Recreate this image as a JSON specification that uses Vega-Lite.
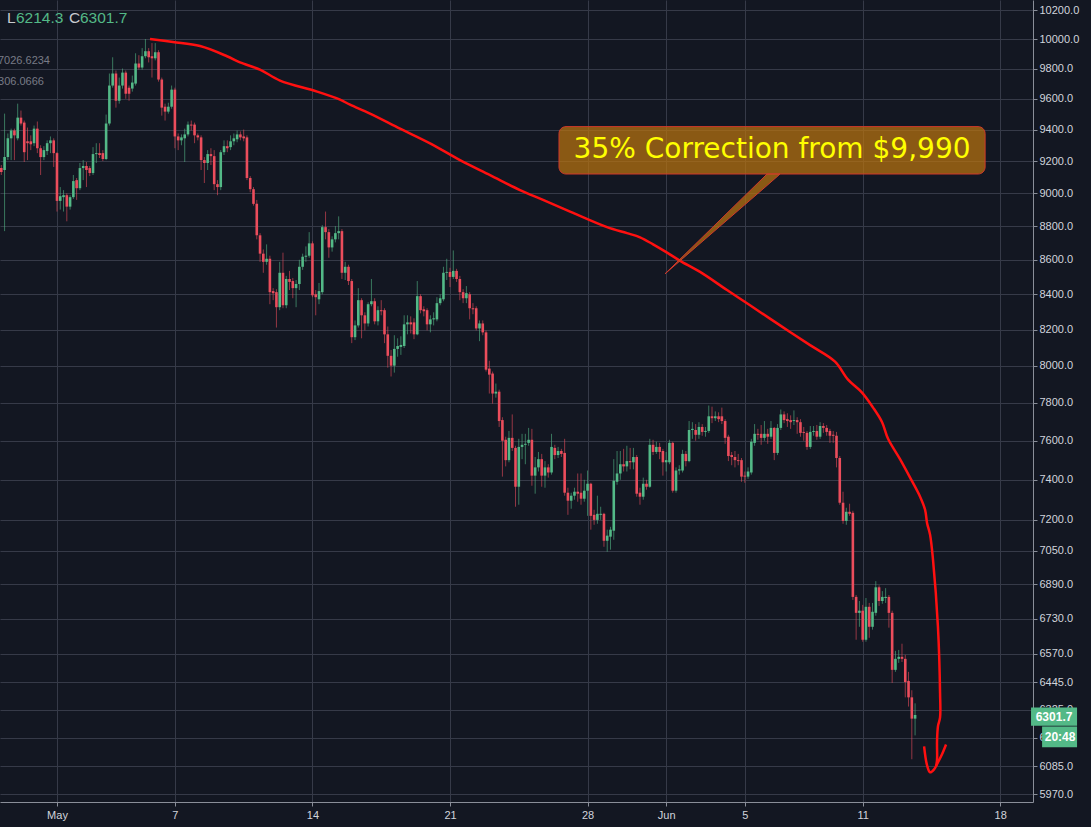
{
  "$schema": "https://vega.github.io/schema/vega-lite/v6.json",
  "width": 1033,
  "height": 802,
  "autosize": {"type": "none"},
  "padding": {"left": 0, "top": 0, "right": 58, "bottom": 25},
  "background": "#131722",
  "config": {"view": {"stroke": null}},
  "datasets": {
    "candles": [
      {"t":"2018-04-28T04:00","o":9156,"h":9175,"l":9113,"c":9131},
      {"t":"2018-04-28T08:00","o":9144,"h":9503,"l":8770,"c":9225},
      {"t":"2018-04-28T12:00","o":9225,"h":9375,"l":9206,"c":9344},
      {"t":"2018-04-28T16:00","o":9344,"h":9406,"l":9206,"c":9394},
      {"t":"2018-04-28T20:00","o":9394,"h":9406,"l":9206,"c":9363},
      {"t":"2018-04-29T00:00","o":9344,"h":9568,"l":9331,"c":9477},
      {"t":"2018-04-29T04:00","o":9477,"h":9523,"l":9426,"c":9439},
      {"t":"2018-04-29T08:00","o":9445,"h":9458,"l":9194,"c":9256},
      {"t":"2018-04-29T12:00","o":9325,"h":9413,"l":9206,"c":9313},
      {"t":"2018-04-29T16:00","o":9325,"h":9363,"l":9269,"c":9306},
      {"t":"2018-04-29T20:00","o":9313,"h":9426,"l":9294,"c":9406},
      {"t":"2018-04-30T00:00","o":9406,"h":9452,"l":9250,"c":9281},
      {"t":"2018-04-30T04:00","o":9281,"h":9300,"l":9113,"c":9225},
      {"t":"2018-04-30T08:00","o":9225,"h":9294,"l":9206,"c":9269},
      {"t":"2018-04-30T12:00","o":9263,"h":9331,"l":9238,"c":9313},
      {"t":"2018-04-30T16:00","o":9313,"h":9356,"l":9250,"c":9331},
      {"t":"2018-04-30T20:00","o":9331,"h":9344,"l":9163,"c":9250},
      {"t":"2018-05-01T00:00","o":9250,"h":9256,"l":8888,"c":8953},
      {"t":"2018-05-01T04:00","o":8953,"h":9038,"l":8900,"c":8982},
      {"t":"2018-05-01T08:00","o":8976,"h":9019,"l":8888,"c":8988},
      {"t":"2018-05-01T12:00","o":8988,"h":9000,"l":8829,"c":8918},
      {"t":"2018-05-01T16:00","o":8918,"h":8988,"l":8900,"c":8976},
      {"t":"2018-05-01T20:00","o":8976,"h":9113,"l":8965,"c":9075},
      {"t":"2018-05-02T00:00","o":9081,"h":9094,"l":8959,"c":9031},
      {"t":"2018-05-02T04:00","o":9031,"h":9188,"l":9019,"c":9156},
      {"t":"2018-05-02T08:00","o":9156,"h":9206,"l":9081,"c":9169},
      {"t":"2018-05-02T12:00","o":9169,"h":9194,"l":9038,"c":9144},
      {"t":"2018-05-02T16:00","o":9156,"h":9169,"l":9106,"c":9125},
      {"t":"2018-05-02T20:00","o":9125,"h":9288,"l":9113,"c":9244},
      {"t":"2018-05-03T00:00","o":9244,"h":9313,"l":9188,"c":9250},
      {"t":"2018-05-03T04:00","o":9250,"h":9313,"l":9219,"c":9238},
      {"t":"2018-05-03T08:00","o":9250,"h":9269,"l":9200,"c":9213},
      {"t":"2018-05-03T12:00","o":9213,"h":9497,"l":9206,"c":9439},
      {"t":"2018-05-03T16:00","o":9439,"h":9767,"l":9426,"c":9687},
      {"t":"2018-05-03T20:00","o":9687,"h":9876,"l":9673,"c":9767},
      {"t":"2018-05-04T00:00","o":9767,"h":9787,"l":9542,"c":9587},
      {"t":"2018-05-04T04:00","o":9587,"h":9740,"l":9568,"c":9687},
      {"t":"2018-05-04T08:00","o":9687,"h":9800,"l":9667,"c":9773},
      {"t":"2018-05-04T12:00","o":9773,"h":9787,"l":9600,"c":9633},
      {"t":"2018-05-04T16:00","o":9673,"h":9687,"l":9587,"c":9633},
      {"t":"2018-05-04T20:00","o":9667,"h":9753,"l":9647,"c":9707},
      {"t":"2018-05-05T00:00","o":9700,"h":9903,"l":9687,"c":9834},
      {"t":"2018-05-05T04:00","o":9834,"h":9890,"l":9793,"c":9807},
      {"t":"2018-05-05T08:00","o":9807,"h":9938,"l":9793,"c":9883},
      {"t":"2018-05-05T12:00","o":9883,"h":10000,"l":9869,"c":9917},
      {"t":"2018-05-05T16:00","o":9917,"h":9938,"l":9841,"c":9876},
      {"t":"2018-05-05T20:00","o":9883,"h":9972,"l":9740,"c":9869},
      {"t":"2018-05-06T00:00","o":9869,"h":9972,"l":9855,"c":9910},
      {"t":"2018-05-06T04:00","o":9910,"h":9924,"l":9713,"c":9727},
      {"t":"2018-05-06T08:00","o":9727,"h":9740,"l":9490,"c":9542},
      {"t":"2018-05-06T12:00","o":9548,"h":9568,"l":9458,"c":9516},
      {"t":"2018-05-06T16:00","o":9516,"h":9574,"l":9503,"c":9548},
      {"t":"2018-05-06T20:00","o":9548,"h":9687,"l":9535,"c":9660},
      {"t":"2018-05-07T00:00","o":9660,"h":9673,"l":9281,"c":9356},
      {"t":"2018-05-07T04:00","o":9356,"h":9375,"l":9269,"c":9331},
      {"t":"2018-05-07T08:00","o":9331,"h":9369,"l":9300,"c":9350},
      {"t":"2018-05-07T12:00","o":9344,"h":9406,"l":9194,"c":9369},
      {"t":"2018-05-07T16:00","o":9369,"h":9452,"l":9356,"c":9432},
      {"t":"2018-05-07T20:00","o":9432,"h":9458,"l":9394,"c":9426},
      {"t":"2018-05-08T00:00","o":9432,"h":9445,"l":9313,"c":9363},
      {"t":"2018-05-08T04:00","o":9363,"h":9375,"l":9331,"c":9350},
      {"t":"2018-05-08T08:00","o":9350,"h":9363,"l":9144,"c":9206},
      {"t":"2018-05-08T12:00","o":9206,"h":9225,"l":9063,"c":9188},
      {"t":"2018-05-08T16:00","o":9188,"h":9269,"l":9144,"c":9244},
      {"t":"2018-05-08T20:00","o":9244,"h":9281,"l":9175,"c":9231},
      {"t":"2018-05-09T00:00","o":9231,"h":9269,"l":9019,"c":9056},
      {"t":"2018-05-09T04:00","o":9056,"h":9081,"l":8988,"c":9038},
      {"t":"2018-05-09T08:00","o":9038,"h":9269,"l":9019,"c":9256},
      {"t":"2018-05-09T12:00","o":9256,"h":9331,"l":9238,"c":9294},
      {"t":"2018-05-09T16:00","o":9294,"h":9331,"l":9256,"c":9281},
      {"t":"2018-05-09T20:00","o":9288,"h":9363,"l":9269,"c":9325},
      {"t":"2018-05-10T00:00","o":9325,"h":9375,"l":9300,"c":9344},
      {"t":"2018-05-10T04:00","o":9338,"h":9394,"l":9319,"c":9369},
      {"t":"2018-05-10T08:00","o":9369,"h":9388,"l":9331,"c":9350},
      {"t":"2018-05-10T12:00","o":9356,"h":9400,"l":9325,"c":9344},
      {"t":"2018-05-10T16:00","o":9350,"h":9363,"l":9081,"c":9094},
      {"t":"2018-05-10T20:00","o":9094,"h":9106,"l":9006,"c":9025},
      {"t":"2018-05-11T00:00","o":9025,"h":9038,"l":8924,"c":8935},
      {"t":"2018-05-11T04:00","o":8935,"h":8959,"l":8721,"c":8745},
      {"t":"2018-05-11T08:00","o":8745,"h":8758,"l":8588,"c":8636},
      {"t":"2018-05-11T12:00","o":8636,"h":8661,"l":8524,"c":8588},
      {"t":"2018-05-11T16:00","o":8588,"h":8691,"l":8571,"c":8606},
      {"t":"2018-05-11T20:00","o":8606,"h":8624,"l":8343,"c":8412},
      {"t":"2018-05-12T00:00","o":8418,"h":8435,"l":8366,"c":8406},
      {"t":"2018-05-12T04:00","o":8412,"h":8429,"l":8211,"c":8326},
      {"t":"2018-05-12T08:00","o":8326,"h":8588,"l":8309,"c":8524},
      {"t":"2018-05-12T12:00","o":8524,"h":8642,"l":8320,"c":8337},
      {"t":"2018-05-12T16:00","o":8337,"h":8506,"l":8320,"c":8488},
      {"t":"2018-05-12T20:00","o":8488,"h":8535,"l":8424,"c":8471},
      {"t":"2018-05-13T00:00","o":8476,"h":8494,"l":8377,"c":8435},
      {"t":"2018-05-13T04:00","o":8435,"h":8482,"l":8326,"c":8459},
      {"t":"2018-05-13T08:00","o":8459,"h":8600,"l":8424,"c":8559},
      {"t":"2018-05-13T12:00","o":8559,"h":8636,"l":8541,"c":8618},
      {"t":"2018-05-13T16:00","o":8618,"h":8679,"l":8588,"c":8624},
      {"t":"2018-05-13T20:00","o":8624,"h":8764,"l":8612,"c":8697},
      {"t":"2018-05-14T00:00","o":8697,"h":8709,"l":8383,"c":8394},
      {"t":"2018-05-14T04:00","o":8400,"h":8424,"l":8280,"c":8383},
      {"t":"2018-05-14T08:00","o":8371,"h":8465,"l":8343,"c":8418},
      {"t":"2018-05-14T12:00","o":8412,"h":8806,"l":8400,"c":8794},
      {"t":"2018-05-14T16:00","o":8794,"h":8888,"l":8721,"c":8764},
      {"t":"2018-05-14T20:00","o":8764,"h":8782,"l":8612,"c":8673},
      {"t":"2018-05-15T00:00","o":8673,"h":8739,"l":8648,"c":8721},
      {"t":"2018-05-15T04:00","o":8721,"h":8800,"l":8703,"c":8758},
      {"t":"2018-05-15T08:00","o":8758,"h":8859,"l":8721,"c":8770},
      {"t":"2018-05-15T12:00","o":8770,"h":8782,"l":8488,"c":8524},
      {"t":"2018-05-15T16:00","o":8524,"h":8588,"l":8482,"c":8559},
      {"t":"2018-05-15T20:00","o":8559,"h":8571,"l":8453,"c":8476},
      {"t":"2018-05-16T00:00","o":8476,"h":8488,"l":8124,"c":8157},
      {"t":"2018-05-16T04:00","o":8157,"h":8251,"l":8141,"c":8223},
      {"t":"2018-05-16T08:00","o":8223,"h":8435,"l":8211,"c":8366},
      {"t":"2018-05-16T12:00","o":8366,"h":8377,"l":8151,"c":8280},
      {"t":"2018-05-16T16:00","o":8280,"h":8297,"l":8195,"c":8234},
      {"t":"2018-05-16T20:00","o":8234,"h":8354,"l":8217,"c":8343},
      {"t":"2018-05-17T00:00","o":8343,"h":8488,"l":8331,"c":8360},
      {"t":"2018-05-17T04:00","o":8360,"h":8377,"l":8229,"c":8246},
      {"t":"2018-05-17T08:00","o":8246,"h":8331,"l":8223,"c":8309},
      {"t":"2018-05-17T12:00","o":8309,"h":8366,"l":8280,"c":8303},
      {"t":"2018-05-17T16:00","o":8309,"h":8320,"l":8124,"c":8173},
      {"t":"2018-05-17T20:00","o":8173,"h":8217,"l":7989,"c":8054},
      {"t":"2018-05-18T00:00","o":8054,"h":8086,"l":7941,"c":8000},
      {"t":"2018-05-18T04:00","o":8000,"h":8168,"l":7962,"c":8092},
      {"t":"2018-05-18T08:00","o":8092,"h":8151,"l":8049,"c":8108},
      {"t":"2018-05-18T12:00","o":8103,"h":8162,"l":8059,"c":8114},
      {"t":"2018-05-18T16:00","o":8108,"h":8280,"l":8097,"c":8229},
      {"t":"2018-05-18T20:00","o":8229,"h":8280,"l":8173,"c":8240},
      {"t":"2018-05-19T00:00","o":8240,"h":8274,"l":8178,"c":8229},
      {"t":"2018-05-19T04:00","o":8240,"h":8263,"l":8146,"c":8173},
      {"t":"2018-05-19T08:00","o":8173,"h":8476,"l":8168,"c":8389},
      {"t":"2018-05-19T12:00","o":8389,"h":8400,"l":8291,"c":8309},
      {"t":"2018-05-19T16:00","o":8314,"h":8331,"l":8274,"c":8303},
      {"t":"2018-05-19T20:00","o":8309,"h":8320,"l":8195,"c":8229},
      {"t":"2018-05-20T00:00","o":8229,"h":8280,"l":8184,"c":8257},
      {"t":"2018-05-20T04:00","o":8257,"h":8297,"l":8223,"c":8263},
      {"t":"2018-05-20T08:00","o":8257,"h":8383,"l":8246,"c":8349},
      {"t":"2018-05-20T12:00","o":8349,"h":8400,"l":8337,"c":8377},
      {"t":"2018-05-20T16:00","o":8371,"h":8559,"l":8360,"c":8524},
      {"t":"2018-05-20T20:00","o":8524,"h":8606,"l":8482,"c":8529},
      {"t":"2018-05-21T00:00","o":8529,"h":8553,"l":8441,"c":8500},
      {"t":"2018-05-21T04:00","o":8500,"h":8655,"l":8488,"c":8535},
      {"t":"2018-05-21T08:00","o":8535,"h":8547,"l":8471,"c":8488},
      {"t":"2018-05-21T12:00","o":8488,"h":8506,"l":8366,"c":8412},
      {"t":"2018-05-21T16:00","o":8412,"h":8429,"l":8349,"c":8377},
      {"t":"2018-05-21T20:00","o":8377,"h":8447,"l":8349,"c":8406},
      {"t":"2018-05-22T00:00","o":8400,"h":8412,"l":8257,"c":8320},
      {"t":"2018-05-22T04:00","o":8320,"h":8349,"l":8286,"c":8314},
      {"t":"2018-05-22T08:00","o":8320,"h":8331,"l":8195,"c":8206},
      {"t":"2018-05-22T12:00","o":8206,"h":8251,"l":8135,"c":8234},
      {"t":"2018-05-22T16:00","o":8234,"h":8251,"l":8168,"c":8184},
      {"t":"2018-05-22T20:00","o":8184,"h":8195,"l":7968,"c":7978},
      {"t":"2018-05-23T00:00","o":7984,"h":8027,"l":7849,"c":7951},
      {"t":"2018-05-23T04:00","o":7957,"h":7968,"l":7795,"c":7849},
      {"t":"2018-05-23T08:00","o":7849,"h":7903,"l":7827,"c":7859},
      {"t":"2018-05-23T12:00","o":7859,"h":7870,"l":7672,"c":7703},
      {"t":"2018-05-23T16:00","o":7708,"h":7723,"l":7416,"c":7600},
      {"t":"2018-05-23T20:00","o":7605,"h":7621,"l":7468,"c":7500},
      {"t":"2018-05-24T00:00","o":7500,"h":7651,"l":7489,"c":7615},
      {"t":"2018-05-24T04:00","o":7615,"h":7738,"l":7547,"c":7563},
      {"t":"2018-05-24T08:00","o":7563,"h":7574,"l":7265,"c":7365},
      {"t":"2018-05-24T12:00","o":7365,"h":7610,"l":7275,"c":7568},
      {"t":"2018-05-24T16:00","o":7568,"h":7636,"l":7505,"c":7579},
      {"t":"2018-05-24T20:00","o":7579,"h":7636,"l":7479,"c":7584},
      {"t":"2018-05-25T00:00","o":7589,"h":7667,"l":7574,"c":7605},
      {"t":"2018-05-25T04:00","o":7605,"h":7662,"l":7370,"c":7421},
      {"t":"2018-05-25T08:00","o":7421,"h":7516,"l":7330,"c":7463},
      {"t":"2018-05-25T12:00","o":7463,"h":7542,"l":7442,"c":7505},
      {"t":"2018-05-25T16:00","o":7505,"h":7532,"l":7365,"c":7421},
      {"t":"2018-05-25T20:00","o":7421,"h":7495,"l":7360,"c":7463},
      {"t":"2018-05-26T00:00","o":7463,"h":7479,"l":7411,"c":7437},
      {"t":"2018-05-26T04:00","o":7437,"h":7636,"l":7426,"c":7568},
      {"t":"2018-05-26T08:00","o":7563,"h":7579,"l":7505,"c":7526},
      {"t":"2018-05-26T12:00","o":7526,"h":7568,"l":7511,"c":7547},
      {"t":"2018-05-26T16:00","o":7547,"h":7558,"l":7516,"c":7532},
      {"t":"2018-05-26T20:00","o":7537,"h":7610,"l":7320,"c":7335},
      {"t":"2018-05-27T00:00","o":7335,"h":7360,"l":7225,"c":7295},
      {"t":"2018-05-27T04:00","o":7295,"h":7335,"l":7255,"c":7320},
      {"t":"2018-05-27T08:00","o":7320,"h":7360,"l":7300,"c":7340},
      {"t":"2018-05-27T12:00","o":7340,"h":7432,"l":7290,"c":7330},
      {"t":"2018-05-27T16:00","o":7335,"h":7432,"l":7275,"c":7305},
      {"t":"2018-05-27T20:00","o":7305,"h":7400,"l":7290,"c":7345},
      {"t":"2018-05-28T00:00","o":7345,"h":7447,"l":7220,"c":7380},
      {"t":"2018-05-28T04:00","o":7380,"h":7385,"l":7152,"c":7220},
      {"t":"2018-05-28T08:00","o":7225,"h":7250,"l":7176,"c":7200},
      {"t":"2018-05-28T12:00","o":7200,"h":7320,"l":7181,"c":7230},
      {"t":"2018-05-28T16:00","o":7225,"h":7265,"l":7200,"c":7230},
      {"t":"2018-05-28T20:00","o":7230,"h":7235,"l":7069,"c":7098},
      {"t":"2018-05-29T00:00","o":7098,"h":7152,"l":7045,"c":7123},
      {"t":"2018-05-29T04:00","o":7118,"h":7166,"l":7055,"c":7152},
      {"t":"2018-05-29T08:00","o":7147,"h":7505,"l":7103,"c":7395},
      {"t":"2018-05-29T12:00","o":7390,"h":7547,"l":7375,"c":7432},
      {"t":"2018-05-29T16:00","o":7432,"h":7547,"l":7400,"c":7479},
      {"t":"2018-05-29T20:00","o":7479,"h":7558,"l":7442,"c":7468},
      {"t":"2018-05-30T00:00","o":7468,"h":7574,"l":7442,"c":7495},
      {"t":"2018-05-30T04:00","o":7495,"h":7563,"l":7453,"c":7489},
      {"t":"2018-05-30T08:00","o":7489,"h":7563,"l":7453,"c":7516},
      {"t":"2018-05-30T12:00","o":7516,"h":7526,"l":7315,"c":7330},
      {"t":"2018-05-30T16:00","o":7335,"h":7360,"l":7275,"c":7315},
      {"t":"2018-05-30T20:00","o":7315,"h":7411,"l":7300,"c":7380},
      {"t":"2018-05-31T00:00","o":7380,"h":7400,"l":7350,"c":7365},
      {"t":"2018-05-31T04:00","o":7365,"h":7610,"l":7360,"c":7579},
      {"t":"2018-05-31T08:00","o":7579,"h":7605,"l":7526,"c":7542},
      {"t":"2018-05-31T12:00","o":7542,"h":7595,"l":7532,"c":7568},
      {"t":"2018-05-31T16:00","o":7568,"h":7589,"l":7505,"c":7542},
      {"t":"2018-05-31T20:00","o":7547,"h":7558,"l":7421,"c":7489},
      {"t":"2018-06-01T00:00","o":7489,"h":7542,"l":7442,"c":7500},
      {"t":"2018-06-01T04:00","o":7489,"h":7605,"l":7479,"c":7589},
      {"t":"2018-06-01T08:00","o":7589,"h":7595,"l":7335,"c":7345},
      {"t":"2018-06-01T12:00","o":7345,"h":7463,"l":7335,"c":7447},
      {"t":"2018-06-01T16:00","o":7447,"h":7474,"l":7426,"c":7453},
      {"t":"2018-06-01T20:00","o":7447,"h":7553,"l":7437,"c":7532},
      {"t":"2018-06-02T00:00","o":7532,"h":7547,"l":7468,"c":7495},
      {"t":"2018-06-02T04:00","o":7495,"h":7703,"l":7489,"c":7656},
      {"t":"2018-06-02T08:00","o":7656,"h":7697,"l":7610,"c":7662},
      {"t":"2018-06-02T12:00","o":7656,"h":7687,"l":7600,"c":7631},
      {"t":"2018-06-02T16:00","o":7631,"h":7697,"l":7610,"c":7672},
      {"t":"2018-06-02T20:00","o":7672,"h":7687,"l":7626,"c":7646},
      {"t":"2018-06-03T00:00","o":7646,"h":7672,"l":7621,"c":7651},
      {"t":"2018-06-03T04:00","o":7651,"h":7785,"l":7641,"c":7728},
      {"t":"2018-06-03T08:00","o":7728,"h":7779,"l":7692,"c":7718},
      {"t":"2018-06-03T12:00","o":7718,"h":7754,"l":7703,"c":7728},
      {"t":"2018-06-03T16:00","o":7728,"h":7749,"l":7697,"c":7713},
      {"t":"2018-06-03T20:00","o":7728,"h":7774,"l":7687,"c":7703},
      {"t":"2018-06-04T00:00","o":7703,"h":7713,"l":7584,"c":7615},
      {"t":"2018-06-04T04:00","o":7621,"h":7631,"l":7495,"c":7521},
      {"t":"2018-06-04T08:00","o":7526,"h":7542,"l":7474,"c":7516},
      {"t":"2018-06-04T12:00","o":7516,"h":7547,"l":7463,"c":7500},
      {"t":"2018-06-04T16:00","o":7500,"h":7532,"l":7474,"c":7495},
      {"t":"2018-06-04T20:00","o":7500,"h":7511,"l":7390,"c":7416},
      {"t":"2018-06-05T00:00","o":7421,"h":7442,"l":7385,"c":7416},
      {"t":"2018-06-05T04:00","o":7416,"h":7463,"l":7405,"c":7442},
      {"t":"2018-06-05T08:00","o":7437,"h":7610,"l":7426,"c":7595},
      {"t":"2018-06-05T12:00","o":7589,"h":7687,"l":7574,"c":7636},
      {"t":"2018-06-05T16:00","o":7636,"h":7662,"l":7605,"c":7631},
      {"t":"2018-06-05T20:00","o":7636,"h":7682,"l":7579,"c":7615},
      {"t":"2018-06-06T00:00","o":7615,"h":7703,"l":7600,"c":7636},
      {"t":"2018-06-06T04:00","o":7636,"h":7662,"l":7584,"c":7621},
      {"t":"2018-06-06T08:00","o":7621,"h":7703,"l":7610,"c":7667},
      {"t":"2018-06-06T12:00","o":7667,"h":7672,"l":7500,"c":7537},
      {"t":"2018-06-06T16:00","o":7537,"h":7687,"l":7526,"c":7667},
      {"t":"2018-06-06T20:00","o":7667,"h":7764,"l":7656,"c":7738},
      {"t":"2018-06-07T00:00","o":7738,"h":7754,"l":7692,"c":7708},
      {"t":"2018-06-07T04:00","o":7713,"h":7744,"l":7672,"c":7703},
      {"t":"2018-06-07T08:00","o":7708,"h":7733,"l":7662,"c":7697},
      {"t":"2018-06-07T12:00","o":7703,"h":7759,"l":7682,"c":7708},
      {"t":"2018-06-07T16:00","o":7708,"h":7723,"l":7636,"c":7697},
      {"t":"2018-06-07T20:00","o":7697,"h":7713,"l":7621,"c":7641},
      {"t":"2018-06-08T00:00","o":7646,"h":7672,"l":7600,"c":7641},
      {"t":"2018-06-08T04:00","o":7641,"h":7651,"l":7553,"c":7568},
      {"t":"2018-06-08T08:00","o":7568,"h":7677,"l":7558,"c":7646},
      {"t":"2018-06-08T12:00","o":7646,"h":7677,"l":7626,"c":7651},
      {"t":"2018-06-08T16:00","o":7651,"h":7682,"l":7605,"c":7621},
      {"t":"2018-06-08T20:00","o":7621,"h":7697,"l":7610,"c":7677},
      {"t":"2018-06-09T00:00","o":7677,"h":7692,"l":7641,"c":7667},
      {"t":"2018-06-09T04:00","o":7667,"h":7682,"l":7626,"c":7646},
      {"t":"2018-06-09T08:00","o":7651,"h":7662,"l":7589,"c":7626},
      {"t":"2018-06-09T12:00","o":7631,"h":7651,"l":7589,"c":7626},
      {"t":"2018-06-09T16:00","o":7626,"h":7646,"l":7463,"c":7511},
      {"t":"2018-06-09T20:00","o":7511,"h":7521,"l":7275,"c":7285},
      {"t":"2018-06-10T00:00","o":7285,"h":7340,"l":7181,"c":7195},
      {"t":"2018-06-10T04:00","o":7195,"h":7260,"l":7176,"c":7240},
      {"t":"2018-06-10T08:00","o":7240,"h":7280,"l":7220,"c":7230},
      {"t":"2018-06-10T12:00","o":7235,"h":7245,"l":6817,"c":6831},
      {"t":"2018-06-10T16:00","o":6831,"h":6840,"l":6634,"c":6757},
      {"t":"2018-06-10T20:00","o":6757,"h":6812,"l":6693,"c":6767},
      {"t":"2018-06-11T00:00","o":6767,"h":6794,"l":6625,"c":6634},
      {"t":"2018-06-11T04:00","o":6634,"h":6826,"l":6625,"c":6785},
      {"t":"2018-06-11T08:00","o":6785,"h":6803,"l":6643,"c":6693},
      {"t":"2018-06-11T12:00","o":6693,"h":6803,"l":6680,"c":6762},
      {"t":"2018-06-11T16:00","o":6757,"h":6905,"l":6744,"c":6876},
      {"t":"2018-06-11T20:00","o":6876,"h":6885,"l":6789,"c":6812},
      {"t":"2018-06-12T00:00","o":6812,"h":6858,"l":6799,"c":6831},
      {"t":"2018-06-12T04:00","o":6826,"h":6872,"l":6803,"c":6831},
      {"t":"2018-06-12T08:00","o":6831,"h":6840,"l":6689,"c":6757},
      {"t":"2018-06-12T12:00","o":6757,"h":6767,"l":6441,"c":6499},
      {"t":"2018-06-12T16:00","o":6499,"h":6584,"l":6490,"c":6548},
      {"t":"2018-06-12T20:00","o":6548,"h":6588,"l":6530,"c":6557},
      {"t":"2018-06-13T00:00","o":6557,"h":6616,"l":6534,"c":6548},
      {"t":"2018-06-13T04:00","o":6548,"h":6566,"l":6378,"c":6445},
      {"t":"2018-06-13T08:00","o":6450,"h":6490,"l":6338,"c":6378},
      {"t":"2018-06-13T12:00","o":6378,"h":6409,"l":6114,"c":6286},
      {"t":"2018-06-13T16:00","o":6286,"h":6352,"l":6214.3,"c":6301.7}
    ],
    "curve": [
      {"t":"2018-05-05T17:36","p":10000,"g":"a","i":1},
      {"t":"2018-05-06T21:42","p":9979,"g":"a","i":2},
      {"t":"2018-05-08T06:42","p":9952,"g":"a","i":3},
      {"t":"2018-05-09T15:36","p":9883,"g":"a","i":4},
      {"t":"2018-05-10T07:30","p":9841,"g":"a","i":5},
      {"t":"2018-05-11T07:54","p":9793,"g":"a","i":6},
      {"t":"2018-05-12T08:24","p":9720,"g":"a","i":7},
      {"t":"2018-05-14T05:36","p":9647,"g":"a","i":8},
      {"t":"2018-05-15T09:42","p":9594,"g":"a","i":9},
      {"t":"2018-05-15T21:54","p":9561,"g":"a","i":10},
      {"t":"2018-05-16T22:18","p":9503,"g":"a","i":11},
      {"t":"2018-05-18T11:00","p":9406,"g":"a","i":12},
      {"t":"2018-05-19T23:36","p":9312,"g":"a","i":13},
      {"t":"2018-05-21T12:12","p":9206,"g":"a","i":14},
      {"t":"2018-05-23T00:54","p":9112,"g":"a","i":15},
      {"t":"2018-05-24T13:30","p":9019,"g":"a","i":16},
      {"t":"2018-05-25T17:36","p":8959,"g":"a","i":17},
      {"t":"2018-05-27T02:36","p":8888,"g":"a","i":18},
      {"t":"2018-05-28T23:48","p":8794,"g":"a","i":19},
      {"t":"2018-05-30T00:12","p":8758,"g":"a","i":20},
      {"t":"2018-05-30T16:06","p":8733,"g":"a","i":21},
      {"t":"2018-05-31T08:00","p":8691,"g":"a","i":22},
      {"t":"2018-06-01T01:06","p":8642,"g":"a","i":23},
      {"t":"2018-06-01T17:00","p":8594,"g":"a","i":24},
      {"t":"2018-06-02T17:24","p":8529,"g":"a","i":25},
      {"t":"2018-06-04T02:18","p":8424,"g":"a","i":26},
      {"t":"2018-06-05T06:24","p":8337,"g":"a","i":27},
      {"t":"2018-06-06T19:06","p":8223,"g":"a","i":28},
      {"t":"2018-06-08T07:42","p":8113,"g":"a","i":29},
      {"t":"2018-06-09T14:12","p":8022,"g":"a","i":30},
      {"t":"2018-06-10T06:06","p":7924,"g":"a","i":31},
      {"t":"2018-06-10T23:12","p":7854,"g":"a","i":32},
      {"t":"2018-06-11T12:42","p":7774,"g":"a","i":33},
      {"t":"2018-06-11T23:42","p":7697,"g":"a","i":34},
      {"t":"2018-06-12T07:00","p":7610,"g":"a","i":35},
      {"t":"2018-06-12T21:36","p":7505,"g":"a","i":36},
      {"t":"2018-06-13T09:54","p":7411,"g":"a","i":37},
      {"t":"2018-06-13T22:06","p":7315,"g":"a","i":38},
      {"t":"2018-06-14T04:12","p":7250,"g":"a","i":39},
      {"t":"2018-06-14T06:36","p":7185,"g":"a","i":40},
      {"t":"2018-06-14T10:18","p":7127,"g":"a","i":41},
      {"t":"2018-06-14T13:54","p":7006,"g":"a","i":42},
      {"t":"2018-06-14T19:54","p":6693,"g":"a","i":43},
      {"t":"2018-06-14T22:30","p":6396,"g":"a","i":44},
      {"t":"2018-06-14T22:30","p":6291,"g":"a","i":45},
      {"t":"2018-06-14T20:00","p":6255,"g":"a","i":46},
      {"t":"2018-06-14T18:48","p":6190,"g":"a","i":47},
      {"t":"2018-06-14T18:48","p":6110,"g":"a","i":48},
      {"t":"2018-06-14T17:36","p":6085,"g":"a","i":49},
      {"t":"2018-06-14T03:00","p":6168,"g":"b","i":1},
      {"t":"2018-06-14T06:36","p":6089,"g":"b","i":2},
      {"t":"2018-06-14T10:18","p":6060,"g":"b","i":3},
      {"t":"2018-06-14T15:12","p":6072,"g":"b","i":4},
      {"t":"2018-06-14T20:00","p":6102,"g":"b","i":5},
      {"t":"2018-06-15T00:54","p":6135,"g":"b","i":6},
      {"t":"2018-06-15T05:48","p":6176,"g":"b","i":7}
    ],
    "box": [
      {"t":"2018-05-26T13:06","t2":"2018-06-17T05:30","p":9419,"p2":9119}
    ],
    "ptr": [
      {"t":"2018-05-31T22:36","p":8518,"p2":8518},
      {"t":"2018-06-06T03:12","p":9119,"p2":9048},
      {"t":"2018-06-06T19:06","p":9119,"p2":9119}
    ],
    "note": [
      {"t":"2018-06-06T09:18","p":9269,"s":"35% Correction from $9,990"}
    ],
    "hdr": [
      {"t":"2018-04-28T10:56","p":10145,"s":"L","k":"lab"},
      {"t":"2018-04-28T21:54","p":10145,"s":"6214.3","k":"val"},
      {"t":"2018-05-01T14:40","p":10145,"s":"C","k":"lab"},
      {"t":"2018-05-02T04:06","p":10145,"s":"6301.7","k":"val"}
    ],
    "ind": [
      {"t":"2018-04-30T15:27","p":9848,"s":"7026.6234"},
      {"t":"2018-04-30T08:06","p":9713,"s":"306.0666"}
    ],
    "tags": [
      {"t":"2018-06-19T13:36","t2":"2018-06-21T21:48","p":6334,"p2":6256},
      {"t":"2018-06-20T03:06","t2":"2018-06-21T21:48","p":6252,"p2":6164}
    ],
    "tagtext": [
      {"t":"2018-06-20T17:42","p":6295,"s":"6301.7"},
      {"t":"2018-06-21T01:06","p":6208,"s":"20:48"}
    ]
  },
  "layer": [
    {
      "data": {"name": "candles"},
      "mark": {"type": "rule", "strokeWidth": 1, "opacity": 0.6},
      "encoding": {
        "x": {
          "field": "t",
          "type": "temporal",
          "title": null,
          "scale": {
            "domain": [
              {"year": 2018, "month": 4, "date": 28, "hours": 2, "minutes": 24},
              {"year": 2018, "month": 6, "date": 19, "hours": 16}
            ],
            "nice": false,
            "padding": 0
          },
          "axis": {
            "values": [
              {"year": 2018, "month": 5, "date": 1},
              {"year": 2018, "month": 5, "date": 7},
              {"year": 2018, "month": 5, "date": 14},
              {"year": 2018, "month": 5, "date": 21},
              {"year": 2018, "month": 5, "date": 28},
              {"year": 2018, "month": 6, "date": 1},
              {"year": 2018, "month": 6, "date": 5},
              {"year": 2018, "month": 6, "date": 11},
              {"year": 2018, "month": 6, "date": 18}
            ],
            "labelExpr": "date(datum.value) == 1 ? timeFormat(datum.value, '%b') : timeFormat(datum.value, '%-d')",
            "grid": true,
            "gridColor": "#363a48",
            "domainColor": "#8a8e99",
            "tickColor": "#8a8e99",
            "tickSize": 4,
            "labelColor": "#d1d4dc",
            "labelFont": "Liberation Sans",
            "labelFontSize": 11,
            "labelPadding": 3,
            "labelFlush": false,
            "labelOverlap": false
          }
        },
        "y": {
          "field": "l",
          "type": "quantitative",
          "title": null,
          "scale": {"type": "log", "domain": [5938, 10270], "nice": false, "zero": false, "padding": 0},
          "axis": {
            "orient": "right",
            "values": [10200, 10000, 9800, 9600, 9400, 9200, 9000, 8800, 8600, 8400, 8200, 8000, 7800, 7600, 7400, 7200, 7050, 6890, 6730, 6570, 6445, 6325, 6205, 6085, 5970],
            "format": ".1f",
            "grid": true,
            "gridColor": "#363a48",
            "domainColor": "#8a8e99",
            "tickColor": "#8a8e99",
            "tickSize": 4,
            "labelColor": "#d1d4dc",
            "labelFont": "Liberation Sans",
            "labelFontSize": 11,
            "labelPadding": 2,
            "labelFlush": false,
            "labelOverlap": false
          }
        },
        "y2": {"field": "h"},
        "color": {"condition": {"test": "datum.c >= datum.o", "value": "#53b987"}, "value": "#eb4d5c"}
      }
    },
    {
      "data": {"name": "candles"},
      "mark": {"type": "bar", "width": 2.6},
      "encoding": {
        "x": {"field": "t", "type": "temporal", "title": null},
        "y": {"field": "o", "type": "quantitative", "title": null},
        "y2": {"field": "c"},
        "color": {"condition": {"test": "datum.c >= datum.o", "value": "#53b987"}, "value": "#eb4d5c"}
      }
    },
    {
      "data": {"name": "curve"},
      "mark": {"type": "line", "color": "#ff1010", "strokeWidth": 2.5, "interpolate": "catmull-rom"},
      "encoding": {
        "x": {"field": "t", "type": "temporal", "title": null},
        "y": {"field": "p", "type": "quantitative", "title": null},
        "detail": {"field": "g"},
        "order": {"field": "i", "type": "quantitative"}
      }
    },
    {
      "data": {"name": "box"},
      "mark": {"type": "rect", "fill": "#b8730f", "fillOpacity": 0.72, "stroke": "#d0392b", "strokeWidth": 1, "cornerRadius": 7},
      "encoding": {
        "x": {"field": "t", "type": "temporal", "title": null},
        "x2": {"field": "t2"},
        "y": {"field": "p", "type": "quantitative", "title": null},
        "y2": {"field": "p2"}
      }
    },
    {
      "data": {"name": "ptr"},
      "mark": {"type": "area", "fill": "#b8730f", "fillOpacity": 0.72, "stroke": "#d0392b", "strokeWidth": 1},
      "encoding": {
        "x": {"field": "t", "type": "temporal", "title": null},
        "y": {"field": "p", "type": "quantitative", "title": null},
        "y2": {"field": "p2"}
      }
    },
    {
      "data": {"name": "note"},
      "mark": {"type": "text", "align": "center", "baseline": "middle", "font": "DejaVu Sans", "fontSize": 28, "color": "#ffff00"},
      "encoding": {
        "x": {"field": "t", "type": "temporal", "title": null},
        "y": {"field": "p", "type": "quantitative", "title": null},
        "text": {"field": "s"}
      }
    },
    {
      "data": {"name": "hdr"},
      "mark": {"type": "text", "align": "left", "baseline": "middle", "font": "Liberation Sans", "fontSize": 15.5},
      "encoding": {
        "x": {"field": "t", "type": "temporal", "title": null},
        "y": {"field": "p", "type": "quantitative", "title": null},
        "text": {"field": "s"},
        "color": {"field": "k", "type": "nominal", "scale": {"domain": ["lab", "val"], "range": ["#c8cad0", "#53b987"]}, "legend": null}
      }
    },
    {
      "data": {"name": "ind"},
      "mark": {"type": "text", "align": "right", "baseline": "middle", "font": "Liberation Sans", "fontSize": 11, "color": "#787b86"},
      "encoding": {
        "x": {"field": "t", "type": "temporal", "title": null},
        "y": {"field": "p", "type": "quantitative", "title": null},
        "text": {"field": "s"}
      }
    },
    {
      "data": {"name": "tags"},
      "mark": {"type": "rect", "fill": "#53b987"},
      "encoding": {
        "x": {"field": "t", "type": "temporal", "title": null},
        "x2": {"field": "t2"},
        "y": {"field": "p", "type": "quantitative", "title": null},
        "y2": {"field": "p2"}
      }
    },
    {
      "data": {"name": "tagtext"},
      "mark": {"type": "text", "align": "center", "baseline": "middle", "font": "Liberation Sans", "fontSize": 12, "fontWeight": "bold", "color": "#ffffff"},
      "encoding": {
        "x": {"field": "t", "type": "temporal", "title": null},
        "y": {"field": "p", "type": "quantitative", "title": null},
        "text": {"field": "s"}
      }
    }
  ]
}
